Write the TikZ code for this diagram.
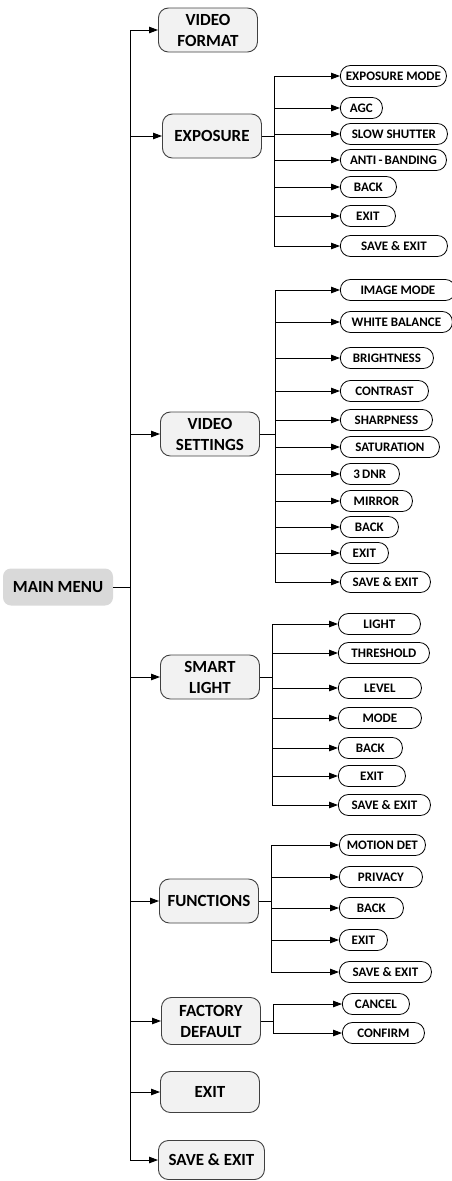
\documentclass[tikz,border=0pt]{standalone}
\usepackage{fontspec}
\setmainfont{Carlito}
\usetikzlibrary{arrows.meta}
\definecolor{menufill}{HTML}{D9D9D9}
\definecolor{boxfill}{HTML}{F2F2F2}
\definecolor{boxline}{HTML}{404040}
\tikzset{wire/.style={line width=.9pt,draw=black},
  arr/.style={wire,-{Triangle[length=9pt,width=6.5pt]}},
  mainbox/.style={rounded corners=8pt,fill=menufill,minimum width=110pt,minimum height=37pt,
    font=\fontsize{17}{21}\selectfont\bfseries},
  menu/.style={draw=boxline,line width=.9pt,fill=boxfill,rounded corners=10pt,anchor=west,
    minimum width=99pt,minimum height=44pt,align=center,inner sep=2pt,
    font=\fontsize{17}{21}\selectfont\bfseries},
  item/.style={draw=black,line width=.8pt,fill=white,rounded corners=10pt,anchor=west,
    minimum height=21pt,inner sep=1pt,font=\fontsize{13}{15}\selectfont\bfseries}}

\begin{document}
\begin{tikzpicture}[x=1pt,y=-1pt]
\useasboundingbox (0,0) rectangle (452,1181);
\node[mainbox] (main) at (58,587) {MAIN MENU};
\node[menu] (vf) at (158,30) {VIDEO\\FORMAT};
\node[menu] (expo) at (162,136) {EXPOSURE};
\node[menu] (vs) at (160,434) {VIDEO\\SETTINGS};
\node[menu] (sl) at (160,677) {SMART\\LIGHT};
\node[menu] (fn) at (159,901) {FUNCTIONS};
\node[menu,minimum height=47pt] (fd) at (161,1021) {FACTORY\\DEFAULT};
\node[menu,minimum height=41pt] (ex) at (160,1092) {EXIT};
\node[menu,minimum width=106pt,minimum height=39pt] (se) at (158,1160) {SAVE \& EXIT};
\coordinate (trunk) at (130,587);
\draw[wire] (main) -- (trunk);
\draw[wire] (trunk |- vf) -- (trunk |- se);
\foreach \m in {vf,expo,vs,sl,fn,fd,ex,se}
  \draw[arr] (trunk |- \m) -- (\m);
% exposure
\coordinate (ebus) at (274,136);
\draw[wire] (expo) -- (ebus);
\foreach \n/\y/\w/\t in {1/76/106/EXPOSURE MODE,2/108/42/AGC,3/134/107/SLOW SHUTTER,
  4/160/106/ANTI\,-\,BANDING,5/187/56/BACK,6/216/55/EXIT,7/246/107/SAVE \& EXIT}{
  \node[item,minimum width=\w pt] (e\n) at (340,\y) {\t};
  \draw[arr] (ebus |- e\n) -- (e\n);
}
\draw[wire] (ebus |- e1) -- (ebus |- e7);
% video settings
\coordinate (vbus) at (275,434);
\draw[wire] (vs) -- (vbus);
\foreach \n/\y/\w/\t in {1/290/115/IMAGE MODE,2/322/112/WHITE BALANCE,3/358/93/BRIGHTNESS,
  4/391/88/CONTRAST,5/420/92/SHARPNESS,6/447/99/SATURATION,7/474/59/3\,DNR,8/501/72/MIRROR,
  9/527/58/BACK,10/553/48/EXIT,11/582/90/SAVE \&\ EXIT}{
  \node[item,minimum width=\w pt] (v\n) at (340,\y) {\t};
  \draw[arr] (vbus |- v\n) -- (v\n);
}
\draw[wire] (vbus |- v1) -- (vbus |- v11);
% smart light
\coordinate (sbus) at (272,677);
\draw[wire] (sl) -- (sbus);
\foreach \n/\y/\w/\t in {1/624/82/LIGHT,2/653/91/THRESHOLD,3/688/83/LEVEL,4/718/83/MODE,
  5/748/64/BACK,6/776/67/EXIT,7/805/92/SAVE \& EXIT}{
  \node[item,minimum width=\w pt] (s\n) at (338,\y) {\t};
  \draw[arr] (sbus |- s\n) -- (s\n);
}
\draw[wire] (sbus |- s1) -- (sbus |- s7);
% functions
\coordinate (fbus) at (271,901);
\draw[wire] (fn) -- (fbus);
\foreach \n/\y/\w/\t in {1/845/86/MOTION DET,2/877/83/PRIVACY,3/908/64/BACK,4/940/48/EXIT,
  5/972/92/SAVE \& EXIT}{
  \node[item,minimum width=\w pt] (f\n) at (339,\y) {\t};
  \draw[arr] (fbus |- f\n) -- (f\n);
}
\draw[wire] (fbus |- f1) -- (fbus |- f5);
% factory default
\coordinate (dbus) at (273,1021);
\draw[wire] (fd) -- (dbus);
\foreach \n/\y/\w/\t in {1/1004/67/CANCEL,2/1033/82/CONFIRM}{
  \node[item,minimum width=\w pt] (d\n) at (342,\y) {\t};
  \draw[arr] (dbus |- d\n) -- (d\n);
}
\draw[wire] (dbus |- d1) -- (dbus |- d2);
\end{tikzpicture}
\end{document}
